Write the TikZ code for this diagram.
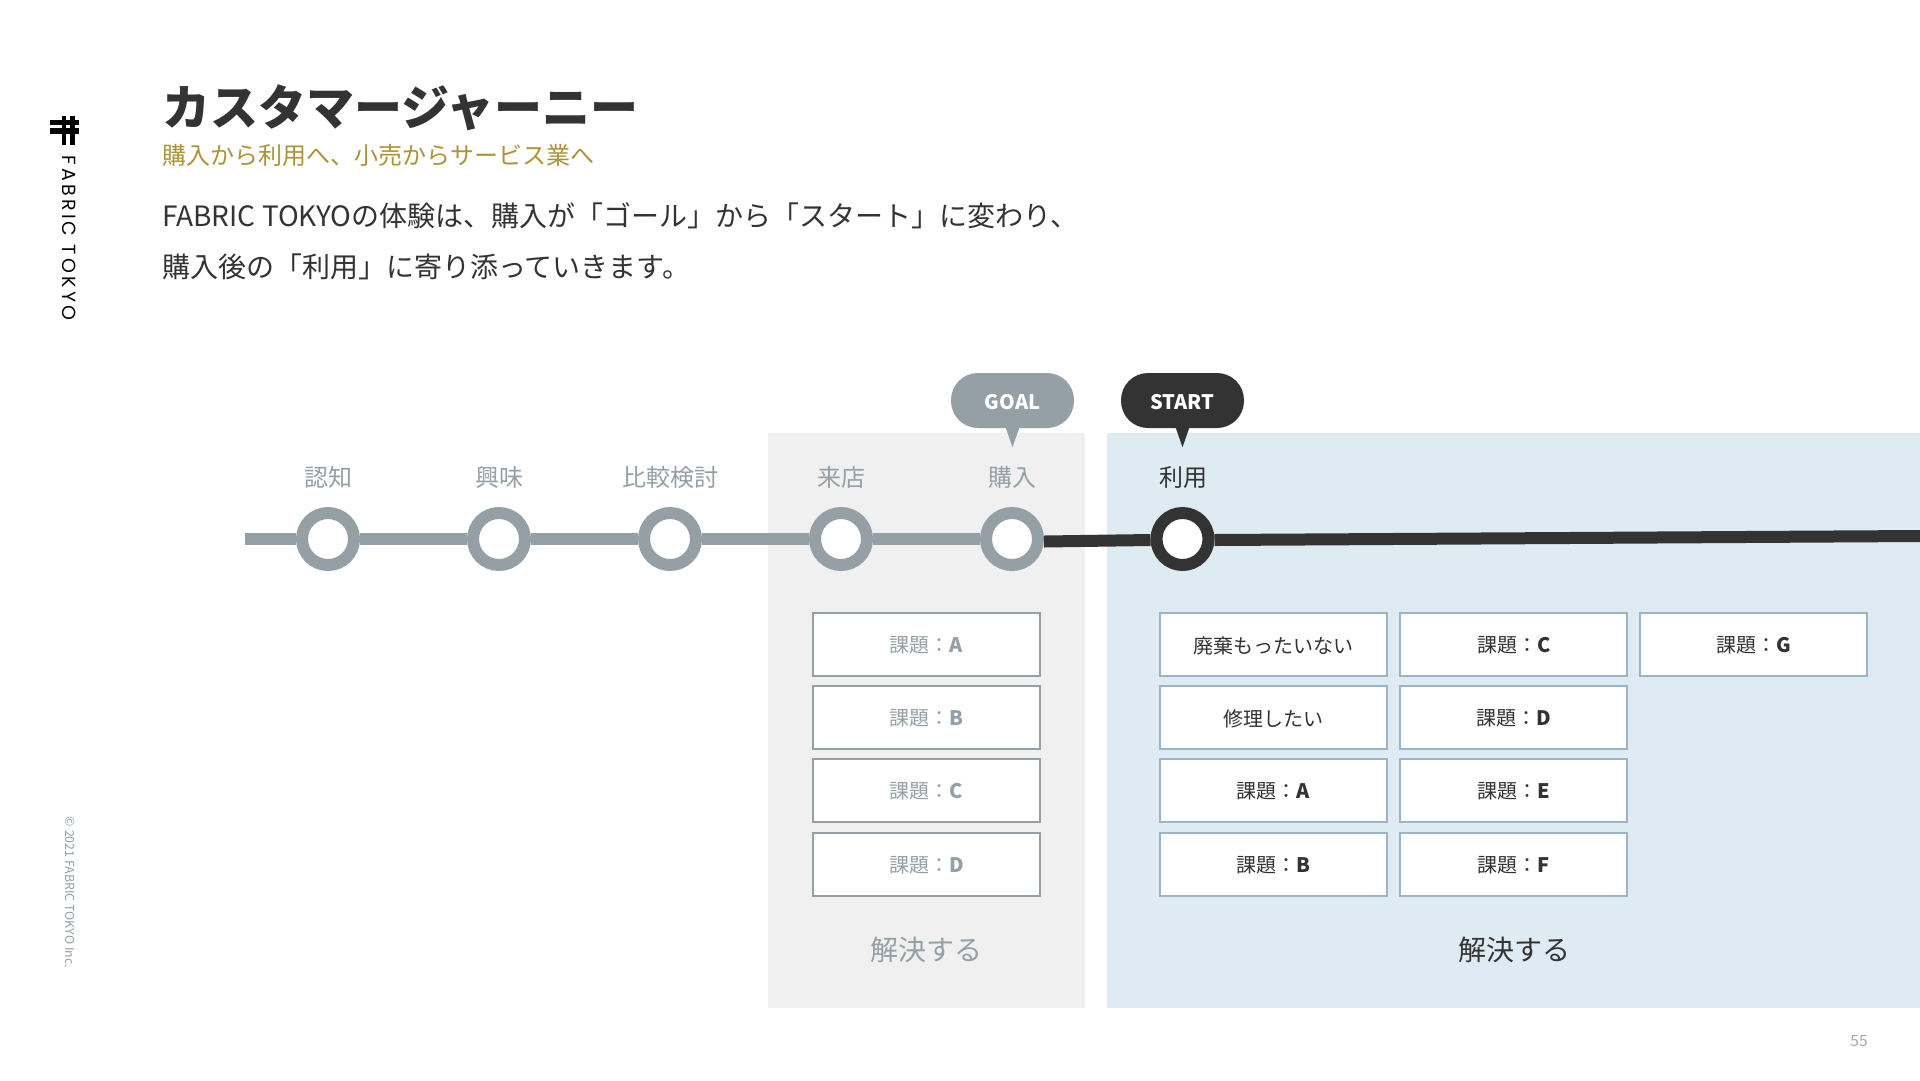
\documentclass[tikz,border=0pt]{standalone}
\usepackage{fontspec}
\usetikzlibrary{calc}
\setmainfont{Noto Sans CJK JP}
\newfontfamily\logofont[LetterSpace=17]{Poppins}
\definecolor{inkdark}{HTML}{333333}
\definecolor{mutegray}{HTML}{94A0A5}
\definecolor{goldtext}{HTML}{AB9339}
\definecolor{panelgray}{HTML}{F0F0F0}
\definecolor{panelblue}{HTML}{DEEBF3}
\definecolor{boxblue}{HTML}{9DB4C6}
\definecolor{pagegray}{HTML}{A6A6A6}
\newcommand{\fs}[1]{\fontsize{#1}{#1}\selectfont}
\newcommand{\tk}[1]{\hspace*{1pt}\raisebox{-1.2pt}[\height][\depth]{#1}}
\tikzset{
  x=1pt,y=-1pt,
  stop/.style={circle,draw=#1,line width=12pt,fill=white,minimum size=52pt,inner sep=0pt},
  stagelabel/.style={anchor=base,inner sep=0pt,font=\fs{24}},
  taskbox/.style={draw=#1,line width=2pt,fill=white,minimum width=227pt,minimum height=63pt,inner sep=0pt,anchor=north west},
  taskmute/.style={text=mutegray,font=\fs{20}},
  taskdark/.style={text=inkdark,font=\fs{20}},
  bubble/.style={fill=#1,rounded corners=27pt,minimum width=123pt,minimum height=55pt,inner sep=0pt,text=white,font=\fs{20}\bfseries},
  resolve/.style={anchor=base,inner sep=0pt,font=\fs{28}},
  headtext/.style={anchor=base west,inner sep=0pt},
}
\begin{document}
\begin{tikzpicture}
\useasboundingbox (0,0) rectangle (1920,1080);
\fill[white] (0,0) rectangle (1920,1080);
% panels
\fill[panelgray] (768,433) rectangle (1084.5,1008);
\fill[panelblue] (1106.5,433) rectangle (1920,1008);
% logo
\fill[black] (50,119.5) rectangle (79,124.5);
\fill[black] (50,128) rectangle (79,133.5);
\fill[black] (61.5,116) rectangle (66,145);
\fill[black] (70,116) rectangle (74.5,145);
\node[rotate=-90,anchor=center,inner sep=0pt,text=black,font=\logofont\fs{19}] (brand) at (69.5,238) {FABRIC TOKYO};
\node[rotate=-90,anchor=center,inner sep=0pt,text=mutegray,font=\fs{12.4}] (copy) at (70,892.5) {© 2021 FABRIC TOKYO Inc.};
% heading
\node[headtext,text=inkdark,font=\fs{48}\bfseries] (title) at (162,125) {カスタマージャーニー};
\node[headtext,text=goldtext,font=\fs{24}] (sub) at (162,164) {購入から利用へ、小売からサービス業へ};
\node[headtext,text=inkdark,font=\fs{28}] (bodya) at (162,226) {FABRIC TOKYOの体験は、購入が「ゴール」から「スタート」に変わり、};
\node[headtext,text=inkdark,font=\fs{28}] (bodyb) at (162,277) {購入後の「利用」に寄り添っていきます。};
% timeline
\coordinate (linestart) at (245,539);
\coordinate (lineend) at (1920,536);
\node[stop=mutegray] (s1) at (328,539) {};
\node[stop=mutegray] (s2) at (499,539) {};
\node[stop=mutegray] (s3) at (670,539) {};
\node[stop=mutegray] (s4) at (841,539) {};
\node[stop=mutegray] (s5) at (1012,539) {};
\node[stop=inkdark] (s6) at (1182.5,539) {};
\draw[line width=12pt,mutegray] (linestart) -- (s1) (s1) -- (s2) (s2) -- (s3) (s3) -- (s4) (s4) -- (s5);
\draw[line width=12pt,inkdark] ($(s5.east)+(0,2.5)$) -- ($(s6.west)+(0,1)$);
\draw[line width=12pt,inkdark] ($(s6.east)+(0,1)$) -- (lineend);
% stage labels
\node[stagelabel,text=mutegray] (l1) at (328,486) {認知};
\node[stagelabel,text=mutegray] (l2) at (499,486) {興味};
\node[stagelabel,text=mutegray] (l3) at (670,486) {比較検討};
\node[stagelabel,text=mutegray] (l4) at (841,486) {来店};
\node[stagelabel,text=mutegray] (l5) at (1012,486) {購入};
\node[stagelabel,text=inkdark] (l6) at (1183,486) {利用};
% bubbles
\node[bubble=mutegray] (goal) at (1012.5,400.5) {\raisebox{-1.2pt}[\height][\depth]{GOAL}};
\node[bubble=inkdark] (start) at (1182.5,400.5) {\raisebox{-1.2pt}[\height][\depth]{START}};
\fill[mutegray] (goal.south) ++(-7,-1) -- ++(14,0) -- ++(-7,20) -- cycle;
\fill[inkdark] (start.south) ++(-7,-1) -- ++(14,0) -- ++(-7,20) -- cycle;
% gray column
\node[taskbox=mutegray,taskmute] (ga) at (811.5,612) {\tk{課題：\textbf{A}}};
\node[taskbox=mutegray,taskmute] (gb) at (811.5,685) {\tk{課題：\textbf{B}}};
\node[taskbox=mutegray,taskmute] (gc) at (811.5,758) {\tk{課題：\textbf{C}}};
\node[taskbox=mutegray,taskmute] (gd) at (811.5,831.5) {\tk{課題：\textbf{D}}};
% blue columns
\node[taskbox=boxblue,taskdark] (ba) at (1158.5,612) {\tk{廃棄もったいない}};
\node[taskbox=boxblue,taskdark] (bb) at (1158.5,685) {\tk{修理したい}};
\node[taskbox=boxblue,taskdark] (bc) at (1158.5,758) {\tk{課題：\textbf{A}}};
\node[taskbox=boxblue,taskdark] (bd) at (1158.5,831.5) {\tk{課題：\textbf{B}}};
\node[taskbox=boxblue,taskdark] (ca) at (1399,612) {\tk{課題：\textbf{C}}};
\node[taskbox=boxblue,taskdark] (cb) at (1399,685) {\tk{課題：\textbf{D}}};
\node[taskbox=boxblue,taskdark] (cc) at (1399,758) {\tk{課題：\textbf{E}}};
\node[taskbox=boxblue,taskdark] (cd) at (1399,831.5) {\tk{課題：\textbf{F}}};
\node[taskbox=boxblue,taskdark] (da) at (1639,612) {\tk{課題：\textbf{G}}};
% resolve labels
\node[resolve,text=mutegray] (ra) at (926,960) {解決する};
\node[resolve,text=inkdark] (rb) at (1514,960) {解決する};
% page number
\node[anchor=center,inner sep=0pt,text=pagegray,font=\fs{15.5}] (page) at (1859,1041) {55};
\end{tikzpicture}
\end{document}
